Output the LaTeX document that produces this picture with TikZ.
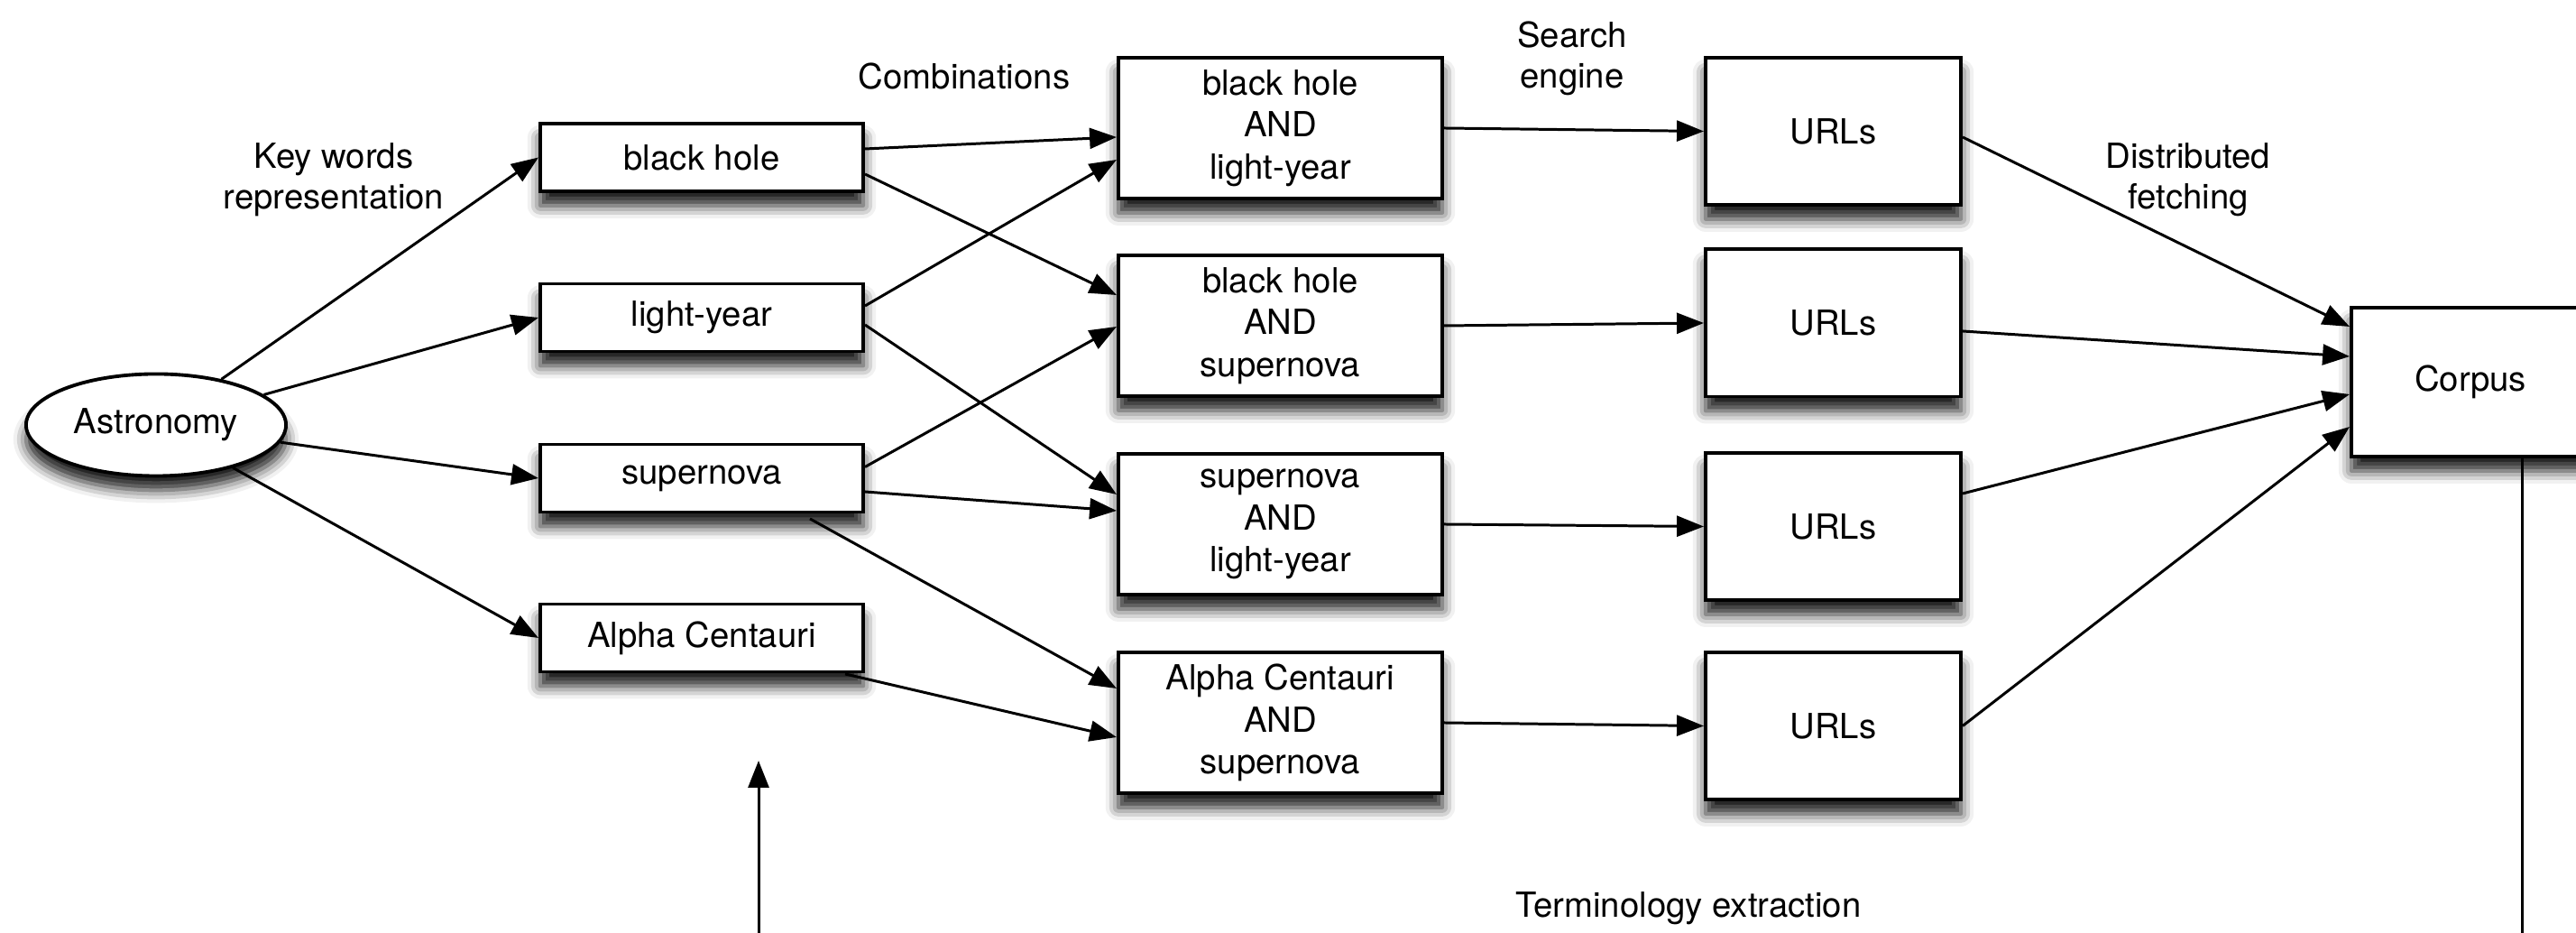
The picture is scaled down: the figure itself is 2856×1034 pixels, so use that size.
\documentclass[tikz,border=0pt]{standalone}
\usepackage{fontspec}
\setmainfont{TeX Gyre Heros}
\usetikzlibrary{arrows.meta,calc,shapes.geometric,shadows.blur}

\tikzset{
  shadowed/.style={blur shadow={shadow xshift=0pt,shadow yshift=-4.5pt,shadow blur radius=4pt,shadow opacity=90}},
  keybox/.style={draw,line width=1.1pt,fill=white,minimum width=35.8mm,minimum height=7.5mm,inner sep=0pt,shadowed},
  combbox/.style={keybox,minimum width=35.9mm,minimum height=15.6mm,align=center,font=\fontsize{10.9}{13.3}\selectfont},
  urlbox/.style={keybox,minimum width=28.3mm,minimum height=16.3mm},
  topic/.style={ellipse,draw,line width=1.1pt,fill=white,minimum width=28.8mm,minimum height=11.3mm,inner sep=0pt,shadowed},
  lbl/.style={align=center},
  link/.style={line width=0.85pt,-{Triangle[length=8.5pt,width=6.5pt]}}
}

\begin{document}
\begin{tikzpicture}[x=0.01cm,y=0.01cm,font=\fontsize{10.9}{12.8}\selectfont]
\useasboundingbox (0,0) rectangle (2856,1034);
\clip (0,0) rectangle (2856,1034);

% topic and key words
\node[topic] (astro) at (173,563) {Astronomy};
\node[keybox] (bh) at (778,859.5) {black hole};
\node[keybox] (ly) at (778,682) {light-year};
\node[keybox] (sn) at (778,504) {supernova};
\node[keybox] (ac) at (778,327) {Alpha Centauri};

% combinations
\node[combbox] (bhly) at (1419.5,892) {black hole\\AND\\light-year};
\node[combbox] (bhsn) at (1419.5,673) {black hole\\AND\\supernova};
\node[combbox] (snly) at (1419.5,453) {supernova\\AND\\light-year};
\node[combbox] (acsn) at (1419.5,233) {Alpha Centauri\\AND\\supernova};

% urls and corpus
\foreach \n/\y in {1/888.5,2/676,3/450.5,4/229.5}
  \node[urlbox] (url\n) at (2032.5,\y) {URLs};
\node[urlbox,minimum width=26.4mm,minimum height=16.5mm] (corpus) at (2739,610.5) {Corpus};

% labels
\node[lbl] (kwlbl) at (370,835) {Key words\\representation};
\node (comblbl) at (1069,949) {Combinations};
\node[lbl] (selbl) at (1743,969) {Search\\engine};
\node[lbl] (dflbl) at (2426,835) {Distributed\\fetching};
\node (telbl) at (1872,27) {Terminology extraction};

% key words representation
\foreach \k in {bh,ly,sn,ac}
  \draw[link] (astro) -- (\k.west);

% combinations
\draw[link] ($(bh.east)+(0,9.5)$) -- ($(bhly.west)+(0,-10)$);
\draw[link] ($(bh.east)+(0,-18.5)$) -- ($(bhsn.west)+(0,34)$);
\draw[link] ($(ly.east)+(0,13)$) -- ($(bhly.west)+(0,-35)$);
\draw[link] ($(ly.east)+(0,-8)$) -- ($(snly.west)+(0,33)$);
\draw[link] ($(sn.east)+(0,12.5)$) -- ($(bhsn.west)+(0,-1)$);
\draw[link] ($(sn.east)+(0,-15)$) -- ($(snly.west)+(0,15)$);
\draw[link] ($(sn.south)+(120,-5.5)$) -- ($(acsn.west)+(0,38)$);
\draw[link] ($(ac.south)+(159,-0.5)$) -- ($(acsn.west)+(0,-16)$);

% search engine
\foreach \c/\n in {bhly/1,bhsn/2,snly/3,acsn/4}
  \draw[link] (\c.east) -- (url\n.west);

% distributed fetching
\draw[link] ($(url1.east)+(0,-6.5)$) -- ($(corpus.west)+(0,61.5)$);
\draw[link] ($(url2.east)+(0,-9)$) -- ($(corpus.west)+(0,28.5)$);
\draw[link] ($(url3.east)+(0,36.5)$) -- ($(corpus.west)+(0,-13.5)$);
\draw[link] (url4.east) -- ($(corpus.west)+(0,-49.5)$);

% terminology extraction
\coordinate (tedown) at (2796,-10);
\coordinate (teup) at (841,-10);
\coordinate (tetip) at (841,191);
\draw[line width=0.85pt] ($(corpus.south)+(57,0)$) -- (tedown);
\draw[link] (teup) -- (tetip);
\end{tikzpicture}
\end{document}
